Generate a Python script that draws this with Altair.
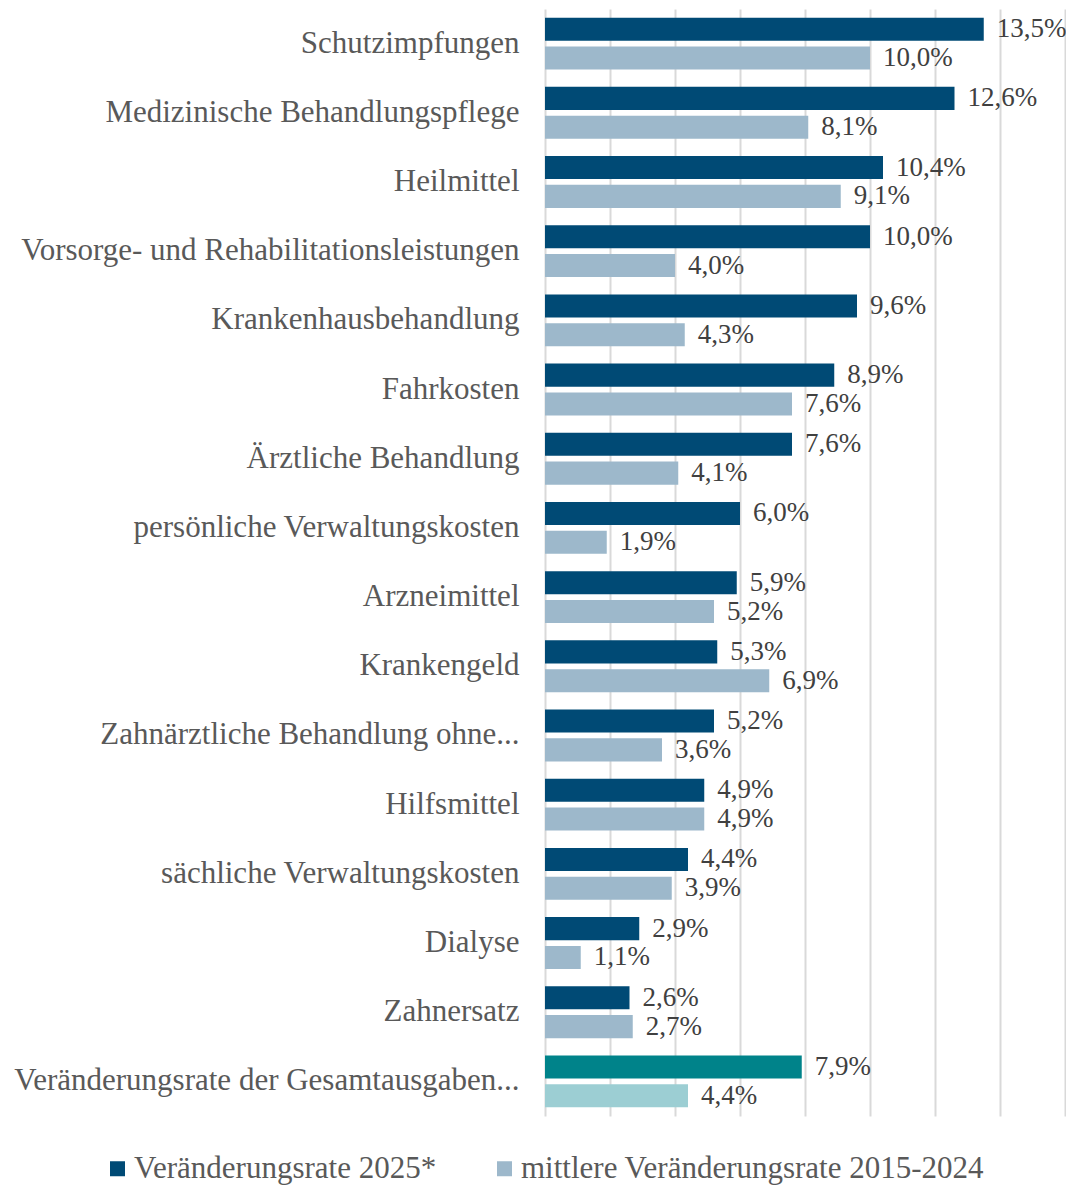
import altair as alt
import pandas as pd

categories = [
    "Schutzimpfungen",
    "Medizinische Behandlungspflege",
    "Heilmittel",
    "Vorsorge- und Rehabilitationsleistungen",
    "Krankenhausbehandlung",
    "Fahrkosten",
    "Ärztliche Behandlung",
    "persönliche Verwaltungskosten",
    "Arzneimittel",
    "Krankengeld",
    "Zahnärztliche Behandlung ohne...",
    "Hilfsmittel",
    "sächliche Verwaltungskosten",
    "Dialyse",
    "Zahnersatz",
    "Veränderungsrate der Gesamtausgaben...",
]
rate_2025 = [13.5, 12.6, 10.4, 10.0, 9.6, 8.9, 7.6, 6.0, 5.9, 5.3, 5.2, 4.9, 4.4, 2.9, 2.6, 7.9]
rate_mean = [10.0, 8.1, 9.1, 4.0, 4.3, 7.6, 4.1, 1.9, 5.2, 6.9, 3.6, 4.9, 3.9, 1.1, 2.7, 4.4]
series = ["Veränderungsrate 2025*", "mittlere Veränderungsrate 2015-2024"]
total_keys = ["Gesamt 2025", "Gesamt Mittel"]

rows = []
for i, c in enumerate(categories):
    is_total = i == len(categories) - 1
    for s, vals, tk in zip(series, [rate_2025, rate_mean], total_keys):
        rows.append({
            "Kategorie": c,
            "Serie": s,
            "Wert": vals[i],
            "Farbe": tk if is_total else s,
        })
df = pd.DataFrame(rows)

color_domain = series + total_keys
color_range = ["#004A75", "#9DB8CB", "#00838A", "#9CCED3"]

font = "Liberation Serif"

y_enc = alt.Y(
    "Kategorie:N",
    sort=categories,
    title=None,
    scale=alt.Scale(paddingInner=0.25, paddingOuter=0.125),
    axis=alt.Axis(
        ticks=False, domain=False, labelFontSize=31, labelFont=font,
        labelColor="#595959", labelPadding=26, labelLimit=600,
    ),
)
y_off = alt.YOffset("Serie:N", sort=series, scale=alt.Scale(paddingInner=0.2))
x_enc = alt.X(
    "Wert:Q",
    title=None,
    scale=alt.Scale(domain=[0, 16], nice=False),
    axis=alt.Axis(
        values=list(range(0, 17, 2)), labels=False, ticks=False, domain=False,
        grid=True, gridColor="#D9D9D9", gridWidth=2,
    ),
)

bars = alt.Chart(df).mark_bar().encode(
    y=y_enc,
    yOffset=y_off,
    x=x_enc,
    color=alt.Color(
        "Farbe:N",
        scale=alt.Scale(domain=color_domain, range=color_range),
        legend=alt.Legend(
            values=series, title=None, orient="none", direction="horizontal",
            legendX=-443, legendY=1144, symbolType="square", symbolSize=225,
            symbolStrokeWidth=0, labelFontSize=31, labelFont=font,
            labelColor="#595959", columnPadding=52, labelOffset=1, padding=0,
            labelLimit=700,
        ),
    ),
)

labels = alt.Chart(df).transform_calculate(
    txt="replace(format(datum.Wert, '.1f'), '.', ',') + '%'"
).mark_text(
    align="left", baseline="middle", dx=13, fontSize=27, font=font, color="#404040"
).encode(
    y=alt.Y("Kategorie:N", sort=categories),
    yOffset=alt.YOffset("Serie:N", sort=series),
    x=alt.X("Wert:Q"),
    text="txt:N",
)

chart = alt.layer(bars, labels).properties(
    width=520, height=1107,
    autosize=alt.AutoSizeParams(type="none"),
    padding={"left": 537, "top": 1, "right": 1, "bottom": 69},
).configure_view(stroke=None)

chart.save("out.html", embed_options={"renderer": "svg", "actions": False})
